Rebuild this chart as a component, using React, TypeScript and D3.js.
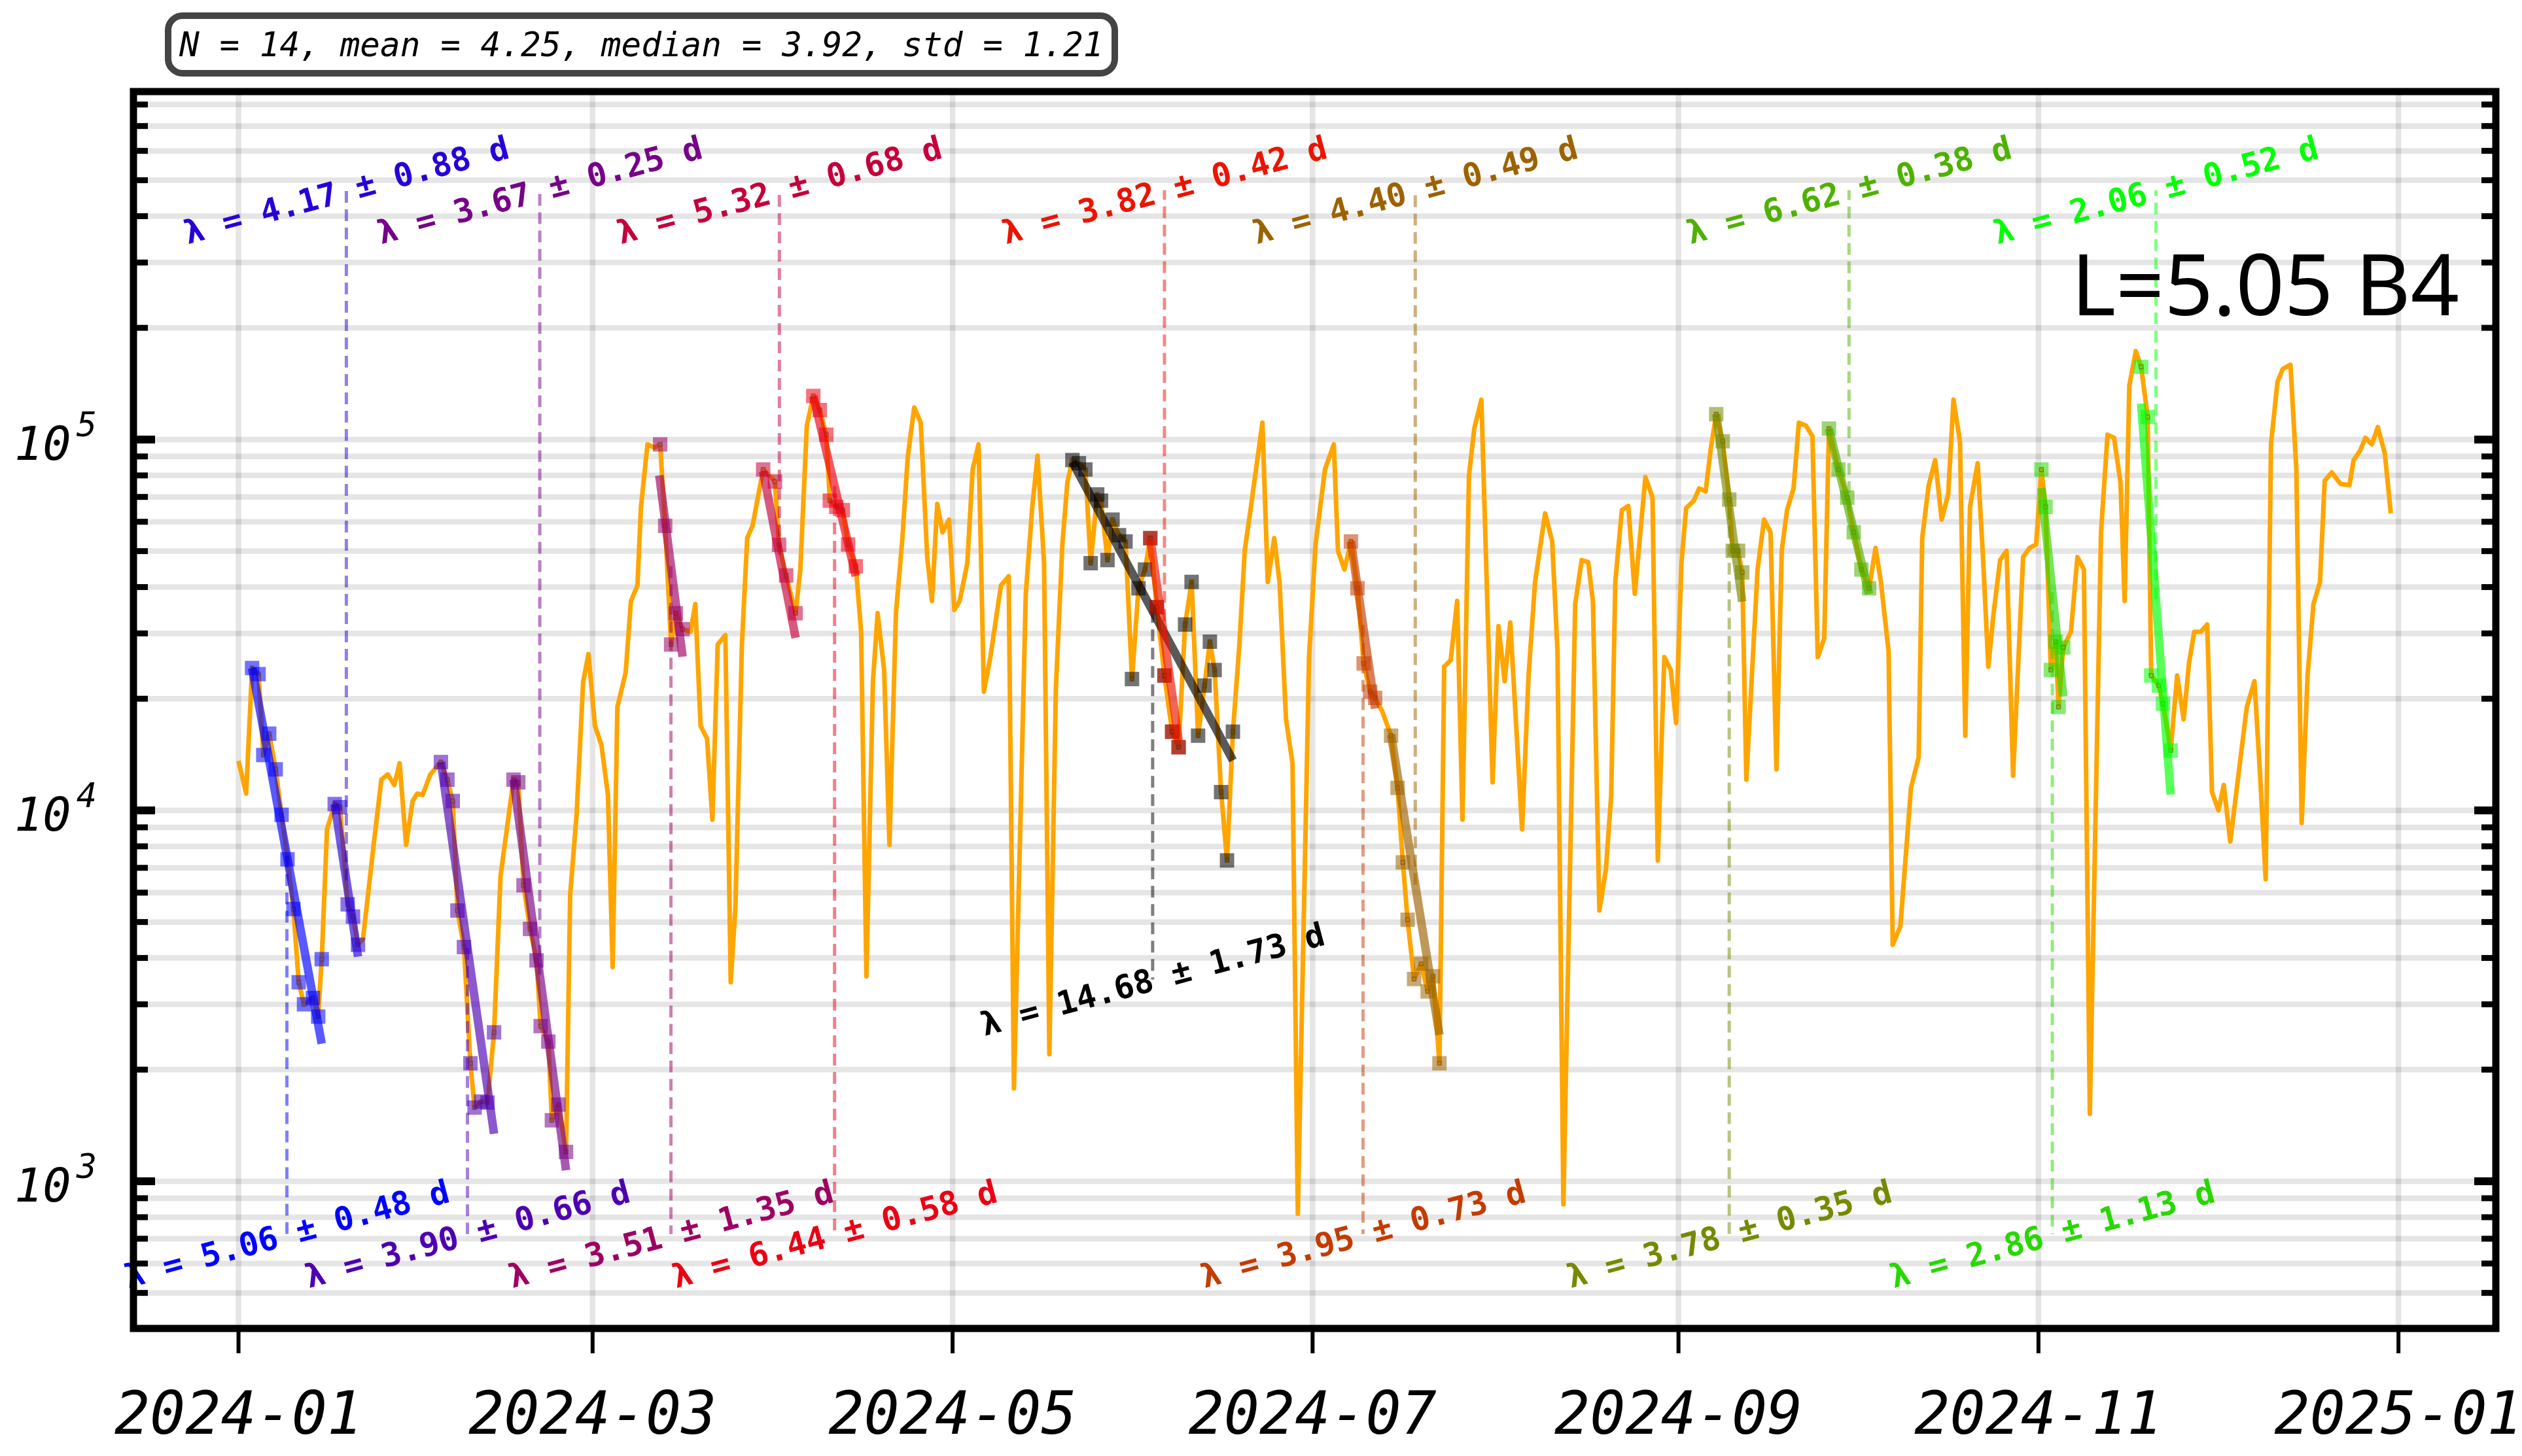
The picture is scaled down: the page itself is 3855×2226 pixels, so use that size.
import { line, rgb, scaleLog, scaleUtc, utcFormat, utcMonth } from 'd3'

const WIDTH = 3855
const HEIGHT = 2226
const PLOT = { left: 204, right: 3815, top: 140, bottom: 2031 }
const MONO = '"DejaVu Sans Mono", monospace'

const START = Date.UTC(2024, 0, 1)
const DAY_MS = 864e5
const toDate = (d: number) => new Date(START + d * DAY_MS)

// days since 2024-01-01 and the measured flux
const days = [
  0, 1.3, 2.3, 3.4, 4.2, 5.2, 6.3, 7.3, 8.3, 9.3, 10.2, 11.1, 12.6, 13.5, 14.1, 15.0, 16.3, 17.2, 18.5, 19.4,
  20.25, 21.1, 22.9, 24.2, 25.3, 26.4, 27.3, 28.4, 29.5, 30.3, 31.2, 32.5, 34.3, 35.4, 36.3, 37.1, 38.2, 39.3, 40.0, 41.1,
  42.2, 43.3, 44.4, 46.6, 47.4, 48.3, 49.4, 50.5, 51.2, 52.5, 53.1, 54.2, 55.5, 56.2, 57.3, 58.4, 59.3, 60.4, 61.5, 62.6,
  63.4, 64.2, 65.6, 66.5, 67.6, 68.2, 69.3, 70.4, 71.45, 72.3, 73.3, 74.1, 75.25, 76.6, 77.4, 78.3, 79.4, 80.3, 81.2, 82.5,
  83.4, 84.2, 85.3, 86.2, 87.1, 88.9, 90.9, 91.6, 92.8, 94.4, 95.2, 96.3, 97.4, 98.5, 99.6, 100.2, 101.3, 102.4, 103.3, 104.6,
  105.5, 106.4, 107.5, 108.3, 109.4, 110.3, 111.4, 112.5, 113.4, 114.5, 115.6, 116.7, 117.5, 118.4, 119.3, 120.4, 121.3, 122.2, 123.5, 124.4,
  125.4, 126.3, 127.4, 129.2, 130.5, 131.4, 132.6, 133.4, 134.5, 135.4, 136.5, 137.4, 138.5, 139.6, 140.45, 141.3, 142.4, 143.5, 144.4, 145.5,
  146.15, 147.25, 148.1, 149.2, 150.3, 151.4, 152.5, 153.6, 154.5, 155.6, 156.9, 158.2, 159.3, 160.4, 161.5, 162.6, 163.7, 164.6, 165.4, 166.5,
  167.5, 168.5, 169.6, 170.5, 171.4, 173.5, 174.4, 175.5, 176.4, 177.5, 178.6, 179.5, 181.4, 182.5, 184.1, 185.6, 186.3, 187.4, 188.5, 189.6,
  190.65, 191.75, 192.6, 193.8, 195.3, 196.4, 197.3, 198.1, 199.2, 200.4, 201.5, 202.4, 203.5, 204.3, 205.4, 206.5, 207.4, 208.5, 209.4, 210.6,
  212.5, 213.5, 214.55, 215.5, 217.5, 218.6, 219.7, 221.4, 222.6, 223.5, 224.5, 226.5, 227.6, 228.7, 229.5, 230.6, 231.7, 232.6, 233.3, 234.4,
  235.5, 236.6, 238.4, 239.6, 240.5, 241.6, 242.7, 243.6, 244.5, 245.3, 246.6, 247.5, 248.6, 249.5, 250.4, 251.5, 252.6, 253.2, 254.1, 254.8,
  255.5, 257.4, 258.5, 259.6, 260.6, 261.5, 262.4, 263.5, 264.4, 265.6, 266.7, 267.6, 268.7, 269.5, 271.1, 272.6, 273.7, 275.0, 276.3, 277.4,
  278.3, 279.6, 280.3, 281.6, 283.4, 284.7, 285.3, 286.4, 287.5, 288.6, 289.7, 290.6, 291.7, 292.6, 293.4, 294.7, 295.6, 296.5, 297.4, 298.5,
  299.6, 300.7, 302.4, 303.5, 304.6, 305.5, 306.2, 307.1, 307.9, 308.4, 309.2, 310.5, 311.6, 312.7, 313.7, 315.6, 316.7, 317.8, 318.9, 319.6,
  320.4, 321.5, 322.4, 323.5, 324.1, 325.4, 326.1, 327.4, 328.5, 329.6, 330.5, 331.4, 332.5, 333.6, 334.4, 335.5, 336.4, 337.5, 338.9, 340.3,
  341.6, 342.5, 343.5, 344.4, 345.5, 346.4, 347.7, 348.7, 349.6, 350.6, 351.6, 352.7, 353.5, 354.7, 356.2, 357.7, 358.4, 359.5, 360.4, 361.5,
  362.5, 363.7, 364.7,
]
const flux = [
  13600, 11100, 24200, 23300, 14100, 16100, 12900, 9730, 7380, 5420, 3440, 3000, 3120, 2780, 3970, 8890, 10400, 10200, 5580, 5170,
  4340, 4510, 8070, 12100, 12500, 11700, 13400, 8070, 10600, 11100, 11000, 12500, 13500, 12100, 10600, 5370, 4280, 2080, 1580, 1640,
  1630, 2520, 6650, 12100, 11900, 6280, 4790, 3940, 2620, 2380, 1460, 1610, 1200, 5920, 9810, 22200, 26400, 16900, 15000, 11000,
  3780, 19000, 23500, 36700, 40400, 65800, 97000, 95100, 97000, 58500, 28000, 34000, 30800, 30300, 36000, 16900, 15600, 9440, 28000, 29700,
  3440, 5480, 28000, 54200, 58500, 83000, 77000, 52000, 43000, 34000, 44600, 109000, 131000, 120000, 103000, 68400, 65800, 64500, 52100, 45500,
  30300, 3570, 22200, 34000, 23900, 8070, 34000, 54200, 89700, 122000, 111000, 48200, 36700, 67000, 56200, 60800, 34700, 36700, 46400, 83000,
  97000, 20900, 25900, 40400, 42800, 1780, 11000, 38200, 65800, 90400, 46400, 2200, 21300, 52100, 76700, 88000, 86300, 83000, 46400, 71100,
  68400, 47300, 60800, 55200, 53100, 22600, 39700, 44600, 54200, 35300, 23100, 16300, 14800, 31700, 41300, 15900, 21700, 28500, 23900, 11200,
  7330, 16300, 28000, 50100, 63200, 111000, 41300, 54200, 41300, 17600, 13400, 817, 25900, 52100, 83000, 97000, 50100, 44600, 53100, 39700,
  24900, 20900, 20100, 18500, 15900, 11500, 7240, 5070, 3510, 3860, 3250, 3570, 2080, 24400, 25400, 36700, 9440, 79800, 107000, 128000,
  11900, 31400, 22300, 32100, 8890, 23100, 41300, 63200, 53100, 26900, 867, 36000, 47300, 46700, 36700, 5370, 6920, 11000, 41300, 64500,
  66200, 38400, 79200, 69700, 7330, 25900, 23900, 17200, 46400, 65300, 68400, 73800, 72400, 95100, 117000, 98900, 68900, 50100, 50100, 43800,
  12100, 44600, 60800, 56200, 12900, 50100, 64500, 73800, 111000, 109000, 102000, 25900, 29100, 107000, 83000, 69700, 56200, 44600, 39700, 51000,
  41300, 26900, 4340, 4870, 11500, 13900, 54200, 75300, 88000, 60800, 71100, 128000, 98900, 15900, 65800, 86300, 48200, 24400, 34000, 47300,
  50100, 12400, 48200, 51000, 52100, 83000, 65800, 23900, 28500, 19000, 27500, 30300, 48200, 44600, 1520, 56200, 103000, 101000, 76700, 36700,
  140000, 173000, 157000, 115000, 23100, 21700, 19400, 14500, 23100, 17600, 24900, 30300, 30300, 31700, 11200, 10000, 11700, 8240, 12500, 19000,
  22300, 12900, 6520, 97000, 143000, 155000, 159000, 83000, 9250, 23100, 36000, 41300, 77400, 81500, 75900, 75300, 88000, 93300, 101000, 97000,
  108000, 91500, 63200,
]

// exponential decay fits, in time order
const fitStart = [2.3, 16.3, 34.3, 46.6, 71.3, 88.9, 97.4, 141.3, 154.5, 188.5, 195.3, 250.4, 269.5, 305.5, 322.4]
const fitEnd = [14.1, 20.25, 43.3, 55.5, 75.25, 94.4, 104.6, 168.5, 159.3, 192.6, 203.5, 254.8, 276.3, 309.2, 327.4]
const fitAmp = [24200, 10400, 13500, 12100, 80000, 82000, 131000, 87000, 54200, 53100, 16000, 117000, 107000, 74000, 125000]
const fitTau = [5.06, 4.17, 3.9, 3.67, 3.51, 5.32, 6.44, 14.68, 3.82, 3.95, 4.4, 3.78, 6.62, 2.86, 2.06]
const fitErr = [0.48, 0.88, 0.66, 0.25, 1.35, 0.68, 0.58, 1.73, 0.42, 0.73, 0.49, 0.35, 0.38, 1.13, 0.52]
const outliers = [7]

const statsText = 'N = 14, mean = 4.25, median = 3.92, std = 1.21'
const cornerText = 'L=5.05 B4'

const LABEL_TOP = 4.7e5
const LABEL_BOTTOM = 720
const LABEL_OUTLIER = 3500

// matplotlib "brg" colormap
function brg(t: number) {
  const r = t <= 0.5 ? 2 * t : 2 - 2 * t
  const g = t <= 0.5 ? 0 : 2 * t - 1
  const b = t <= 0.5 ? 1 - 2 * t : 0
  return rgb(r * 255, g * 255, b * 255).formatHex()
}

export default function App() {
  const x = scaleUtc()
    .domain([toDate(-17.8), toDate(382.5)])
    .range([PLOT.left, PLOT.right])
  const y = scaleLog().domain([401, 8.67e5]).range([PLOT.bottom, PLOT.top])
  const xd = (d: number) => x(toDate(d))

  const xTicks = x.ticks(utcMonth.every(2)!)
  const fmt = utcFormat('%Y-%m')
  const [yMin, yMax] = y.domain()
  const yMajor = [1e3, 1e4, 1e5]
  const yMinor: number[] = []
  for (let e = 2; e <= 5; e++) {
    for (let k = 2; k <= 9; k++) {
      const v = k * 10 ** e
      if (v >= yMin && v <= yMax) yMinor.push(v)
    }
  }

  const points = days.map((d, i) => ({ d, v: flux[i] }))
  const fluxLine = line<{ d: number; v: number }>()
    .x((p) => xd(p.d))
    .y((p) => y(p.v))

  const nGood = fitTau.length - outliers.length
  let colorIndex = 0
  const fits = fitTau.map((tau, i) => {
    const isOut = outliers.includes(i)
    const color = isOut ? '#000000' : brg(colorIndex / (nGood - 1))
    const slot = isOut ? -1 : colorIndex
    if (!isOut) colorIndex += 1
    const model = (d: number) => fitAmp[i] * Math.exp(-(d - fitStart[i]) / tau)
    const mid = (fitStart[i] + fitEnd[i]) / 2
    const labelValue = isOut ? LABEL_OUTLIER : slot % 2 === 0 ? LABEL_BOTTOM : LABEL_TOP
    return {
      i,
      color,
      pts: points.filter((p) => p.d >= fitStart[i] - 1e-6 && p.d <= fitEnd[i] + 1e-6),
      line: fluxLine([
        { d: fitStart[i], v: model(fitStart[i]) },
        { d: fitEnd[i], v: model(fitEnd[i]) },
      ]),
      midX: xd(mid),
      midY: y(model(mid)),
      labelY: y(labelValue),
      text: `λ = ${tau.toFixed(2)} ± ${fitErr[i].toFixed(2)} d`,
    }
  })

  const gridStyle = { stroke: '#000', strokeOpacity: 0.1, strokeWidth: 8.5 }
  const MS = 22

  return (
    <svg
      width={WIDTH}
      height={HEIGHT}
      viewBox={`0 0 ${WIDTH} ${HEIGHT}`}
      style={{ position: 'absolute', left: 0, top: 0, background: '#fff' }}
    >
      <rect x={0} y={0} width={WIDTH} height={HEIGHT} fill="#fff" />

      {/* grid */}
      {[...yMajor, ...yMinor].map((v) => (
        <line key={`gy${v}`} x1={PLOT.left} x2={PLOT.right} y1={y(v)} y2={y(v)} {...gridStyle} />
      ))}
      {xTicks.map((t) => (
        <line key={`gx${+t}`} x1={x(t)} x2={x(t)} y1={PLOT.top} y2={PLOT.bottom} {...gridStyle} />
      ))}

      {/* daily flux */}
      <path d={fluxLine(points) ?? ''} fill="none" stroke="#ffa500" strokeWidth={7} strokeLinejoin="round" />

      {/* fits */}
      {fits.map((f) => (
        <g key={`fit${f.i}`}>
          {f.pts.map((p, k) => (
            <rect
              key={k}
              x={xd(p.d) - MS / 2}
              y={y(p.v) - MS / 2}
              width={MS}
              height={MS}
              fill={f.color}
              fillOpacity={0.55}
            />
          ))}
          {f.pts.map((p, k) => (
            <rect
              key={`c${k}`}
              x={xd(p.d) - 3}
              y={y(p.v) - 3}
              width={6}
              height={6}
              fill="none"
              stroke="#333"
              strokeOpacity={0.4}
              strokeWidth={1.5}
            />
          ))}
          <path d={f.line ?? ''} stroke={f.color} strokeOpacity={0.65} strokeWidth={13} fill="none" />
          <line
            x1={f.midX}
            x2={f.midX}
            y1={f.midY}
            y2={f.labelY}
            stroke={f.color}
            strokeOpacity={0.5}
            strokeWidth={5}
            strokeDasharray="18 10"
          />
          <text
            x={f.midX}
            y={f.labelY}
            transform={`rotate(-15 ${f.midX} ${f.labelY})`}
            textAnchor="middle"
            dominantBaseline="central"
            fontFamily={MONO}
            fontWeight="bold"
            fontSize={50}
            fill={f.color}
          >
            {f.text}
          </text>
        </g>
      ))}

      {/* y ticks, both sides, pointing in */}
      {yMajor.map((v) => (
        <g key={`ym${v}`}>
          <line x1={PLOT.left} x2={PLOT.left + 33} y1={y(v)} y2={y(v)} stroke="#000" strokeWidth={12} />
          <line x1={PLOT.right} x2={PLOT.right - 33} y1={y(v)} y2={y(v)} stroke="#000" strokeWidth={12} />
          <text x={148} y={y(v) + 31} textAnchor="end" fontFamily={MONO} fontStyle="italic" fontSize={72} fill="#000">
            10
            <tspan dx={8} dy={-36} fontSize={52}>
              {Math.round(Math.log10(v))}
            </tspan>
          </text>
        </g>
      ))}
      {yMinor.map((v) => (
        <g key={`yn${v}`}>
          <line x1={PLOT.left} x2={PLOT.left + 22} y1={y(v)} y2={y(v)} stroke="#000" strokeWidth={9} />
          <line x1={PLOT.right} x2={PLOT.right - 22} y1={y(v)} y2={y(v)} stroke="#000" strokeWidth={9} />
        </g>
      ))}

      {/* x ticks */}
      {xTicks.map((t) => (
        <g key={`xt${+t}`}>
          <line x1={x(t)} x2={x(t)} y1={PLOT.bottom} y2={PLOT.bottom + 38} stroke="#000" strokeWidth={6} />
          <text
            x={x(t)}
            y={2192}
            textAnchor="middle"
            fontFamily={MONO}
            fontStyle="italic"
            fontSize={90}
            fill="#000"
          >
            {fmt(t)}
          </text>
        </g>
      ))}

      {/* frame */}
      <rect
        x={PLOT.left}
        y={PLOT.top}
        width={PLOT.right - PLOT.left}
        height={PLOT.bottom - PLOT.top}
        fill="none"
        stroke="#000"
        strokeWidth={11}
      />

      <text x={3759} y={482} textAnchor="end" fontFamily='"Noto Sans", sans-serif' fontSize={130} fill="#000">
        {cornerText}
      </text>

      {/* stats box */}
      <rect x={257} y={24} width={1447} height={88} rx={22} fill="#fff" stroke="#444" strokeWidth={10} />
      <text x={274} y={86} fontFamily={MONO} fontStyle="italic" fontSize={51} fill="#000">
        {statsText}
      </text>
    </svg>
  )
}
